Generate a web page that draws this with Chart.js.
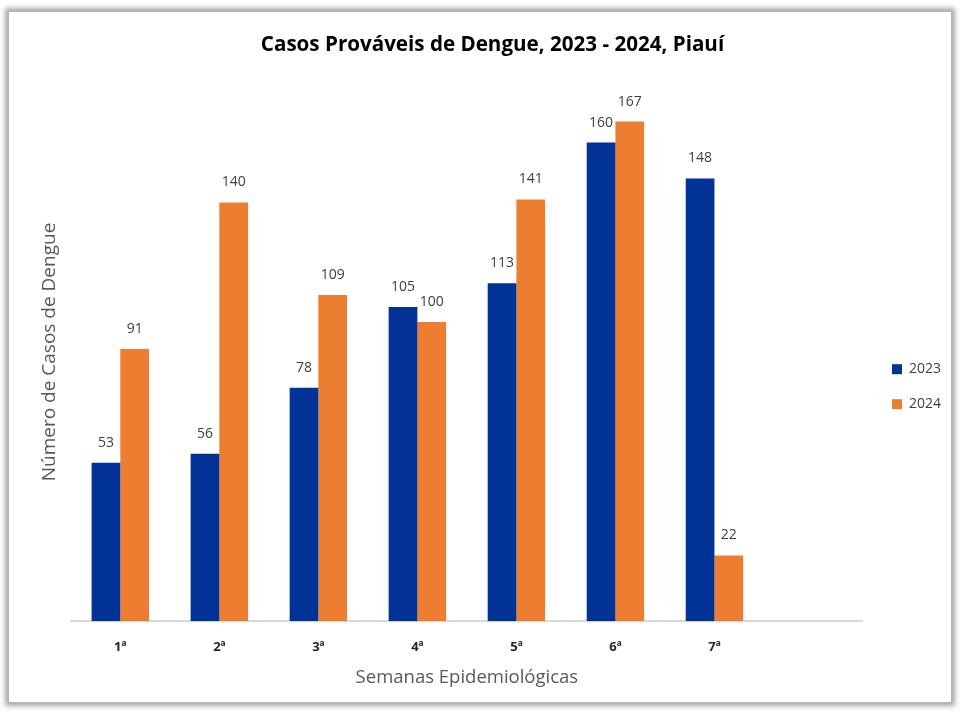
<!DOCTYPE html>
<html>
<head>
<meta charset="utf-8">
<script src="https://cdn.jsdelivr.net/npm/chart.js@4"></script>
<style>
  body { margin: 0; background: #fff; }
  #frame { position: absolute; left: 8px; top: 11px; width: 942px; height: 690px;
    border: 1px solid #b5b5b5; box-shadow: 0 0 5px 3px #a8a8a8; background: #fff; }
  #wrap { position: absolute; left: 0; top: 0; width: 963px; height: 715px; }
</style>
</head>
<body>
<div id="frame"></div>
<div id="wrap"><canvas id="myChart"></canvas></div>
<script>
const semanas = ['1ª', '2ª', '3ª', '4ª', '5ª', '6ª', '7ª', ''];
const casos2023 = [53, 56, 78, 105, 113, 160, 148, null];
const casos2024 = [91, 140, 109, 100, 141, 167, 22, null];

// rótulos em cima das barras
const rotulos = {
  id: 'rotulos',
  afterDatasetsDraw(chart) {
    const ctx = chart.ctx;
    ctx.save();
    ctx.font = '14px "Open Sans"';
    ctx.fillStyle = '#404040';
    ctx.textAlign = 'center';
    ctx.textBaseline = 'bottom';
    chart.data.datasets.forEach((ds, i) => {
      chart.getDatasetMeta(i).data.forEach((bar, j) => {
        if (ds.data[j] == null) return;
        ctx.fillText(ds.data[j], bar.x, bar.y - 13);
      });
    });
    ctx.restore();
  }
};

const ctx = document.getElementById('myChart').getContext('2d');
new Chart(ctx, {
  type: 'bar',
  data: {
    labels: semanas,
    datasets: [
      { label: '2023', data: casos2023, backgroundColor: '#013397' },
      { label: '2024', data: casos2024, backgroundColor: '#ED7D31' }
    ]
  },
  options: {
    responsive: true,
    maintainAspectRatio: false,
    animation: false,
    layout: { padding: { top: 20, left: 34, right: 12, bottom: 22 } },
    datasets: { bar: { categoryPercentage: 0.58, barPercentage: 1 } },
    plugins: {
      title: {
        display: true,
        text: 'Casos Prováveis de Dengue, 2023 - 2024, Piauí',
        color: '#000',
        font: { family: '"Open Sans"', size: 20.6, weight: 'bold' },
        padding: { top: 13, bottom: 25 }
      },
      legend: {
        position: 'right',
        title: { display: true, text: '', font: { size: 12 }, padding: { top: 46, bottom: 0 } },
        labels: {
          boxWidth: 10, boxHeight: 10, padding: 21,
          color: '#404040',
          font: { family: '"Open Sans"', size: 14 }
        }
      },
      tooltip: { enabled: false }
    },
    scales: {
      x: {
        grid: { display: false },
        border: { color: '#d9d9d9', width: 2 },
        ticks: { color: '#262626', font: { family: '"Open Sans"', size: 13, weight: 'bold' }, padding: 10 },
        title: {
          display: true, text: 'Semanas Epidemiológicas', color: '#595959',
          font: { family: '"Open Sans"', size: 18.5 }, padding: { top: 2, bottom: 4 }
        }
      },
      y: {
        min: 0, max: 180,
        grid: { display: false },
        border: { display: false },
        ticks: { display: false },
        title: {
          display: true, text: 'Número de Casos de Dengue', color: '#595959',
          font: { family: '"Open Sans"', size: 19 }, padding: { bottom: 2 }
        }
      },
      // eixo vazio só para dar espaço antes da legenda
      espaco: {
        position: 'right',
        grid: { display: false },
        border: { display: false },
        ticks: { display: false },
        afterFit(scale) { scale.width = 8; }
      }
    }
  },
  plugins: [rotulos]
});
</script>
</body>
</html>
